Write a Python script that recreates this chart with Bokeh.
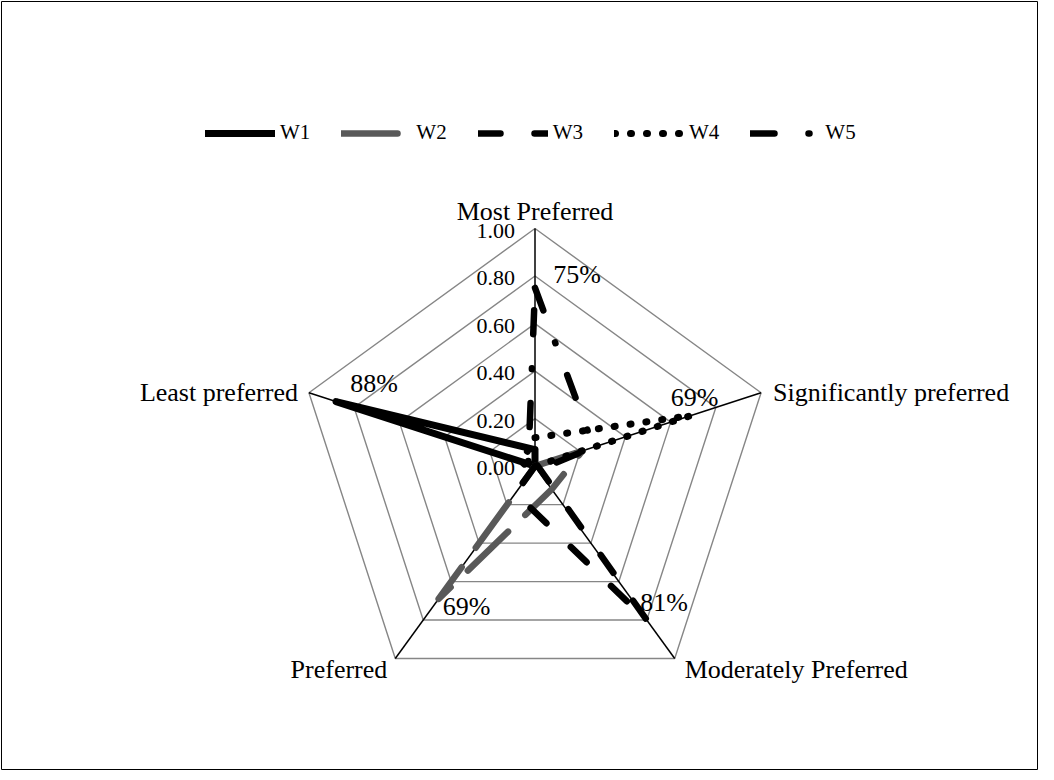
import numpy as np
from bokeh.plotting import figure
from bokeh.models import Legend, LegendItem, Range1d
from bokeh.core.properties import value
from bokeh.embed import file_html
from bokeh.resources import INLINE

# ---------------- data ----------------
categories = ["Most Preferred", "Significantly preferred", "Moderately Preferred",
              "Preferred", "Least preferred"]
series_names = ["W1", "W2", "W3", "W4", "W5"]
w1 = [0.07, 0.00, 0.00, 0.00, 0.88]
w2 = [0.00, 0.21, 0.12, 0.69, 0.00]
w3 = [0.00, 0.01, 0.81, 0.14, 0.00]
w4 = [0.12, 0.69, 0.00, 0.02, 0.06]
w5 = [0.75, 0.26, 0.02, 0.00, 0.03]
tick_values = [0.0, 0.2, 0.4, 0.6, 0.8, 1.0]
tick_labels = ["0.00", "0.20", "0.40", "0.60", "0.80", "1.00"]

# ---------------- layout / style ----------------
FONT = value("Liberation Serif")
W, H = 1038, 770
FW, FH = W - 2, H - 2           # frame size (1px border each side)
SCALE = 237.7                   # pixels per unit radius
CX, CY = 533.5, 464.7           # centre in frame pixels (from left, from top)

p = figure(width=W, height=H, output_backend="svg", toolbar_location=None,
           x_axis_type=None, y_axis_type=None,
           x_range=Range1d(-CX / SCALE, (FW - CX) / SCALE),
           y_range=Range1d(-(FH - CY) / SCALE, CY / SCALE),
           min_border_left=1, min_border_right=1, min_border_top=1, min_border_bottom=1)
p.grid.visible = False
p.outline_line_color = "black"
p.outline_line_width = 1
p.background_fill_color = "white"
p.border_fill_color = "white"

n = len(categories)
angles = np.deg2rad(90 - 72 * np.arange(n))
cosA, sinA = np.cos(angles), np.sin(angles)

def to_xy(vals):
    v = np.asarray(vals, dtype=float)
    x = v * cosA
    y = v * sinA
    return list(np.append(x, x[0])), list(np.append(y, y[0]))

# grid rings
for t in tick_values[1:]:
    gx, gy = to_xy([t] * n)
    p.line(gx, gy, line_color="#868686", line_width=1.4)

# spokes
for i in range(n):
    p.line([0, cosA[i]], [0, sinA[i]], line_color="black", line_width=1.5)

# tick labels along first axis
p.text(x=[0] * len(tick_values), y=tick_values, text=tick_labels,
       text_font=FONT, text_font_size="22px", text_color="black",
       text_align="right", text_baseline="middle", x_offset=-20, y_offset=2)

# category labels
cat_align = ["center", "left", "left", "right", "right"]
cat_base = ["alphabetic", "middle", "middle", "middle", "middle"]
cat_dx = [0, 12, 10, -8, -11]
cat_dy = [-17, 0, 11, 11, 0]
for i, c in enumerate(categories):
    p.text(x=[cosA[i]], y=[sinA[i]], text=[c], text_font=FONT, text_font_size="26px",
           text_color="black", text_align=cat_align[i], text_baseline=cat_base[i],
           x_offset=cat_dx[i], y_offset=cat_dy[i])

# series
series = [w1, w2, w3, w4, w5]
colors = ["black", "#595959", "black", "black", "black"]
dashes = ["solid", "56 24", "22 34", "1 15", "24 34 1 34"]
widths = [7, 6.5, 6.5, 7, 6.5]
lbl_dx = [38, 28, 16, 3.5, 42]
lbl_dy = [-18.5, 8, -19.5, -18, -13.5]

renderers = []
for k, vals in enumerate(series):
    sx, sy = to_xy(vals)
    r = p.line(sx, sy, line_color=colors[k], line_width=widths[k],
               line_dash=dashes[k], line_cap="round", line_join="round")
    renderers.append(r)

for k, vals in enumerate(series):
    j = int(np.argmax(vals))
    v = vals[j]
    p.text(x=[v * cosA[j]], y=[v * sinA[j]], text=[f"{round(v * 100)}%"],
           text_font=FONT, text_font_size="26px", text_color="black",
           text_align="center", text_baseline="middle",
           x_offset=lbl_dx[k], y_offset=lbl_dy[k])

legend = Legend(items=[LegendItem(label=nm, renderers=[r]) for nm, r in zip(series_names, renderers)],
                orientation="horizontal", location=(204, 624),
                label_text_font="Liberation Serif", label_text_font_size="21px",
                label_text_color="black",
                glyph_width=70, glyph_height=20, label_standoff=5, spacing=31,
                padding=0, margin=0, border_line_color=None, background_fill_alpha=0)
p.add_layout(legend, "center")

open("out.html", "w").write(file_html(p, INLINE))
